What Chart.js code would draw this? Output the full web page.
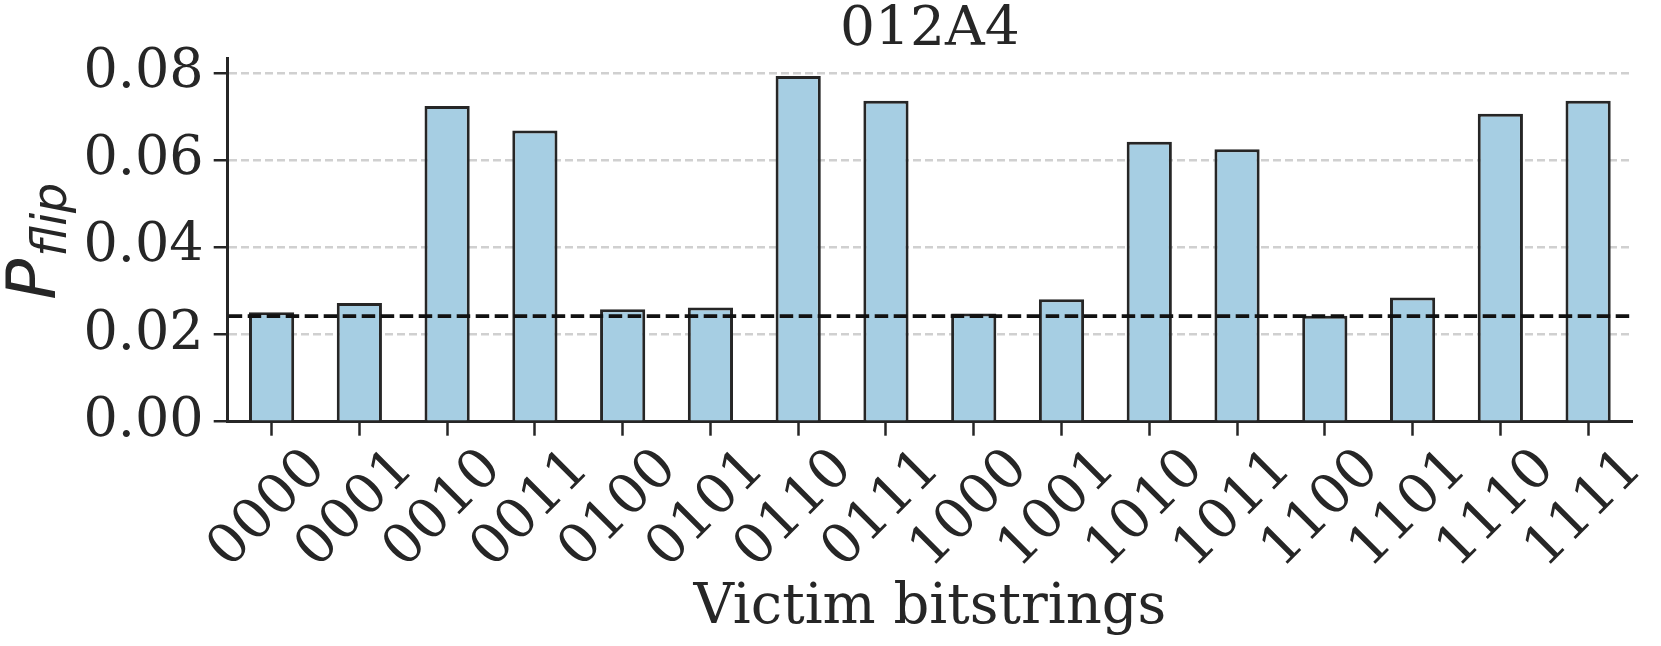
<!DOCTYPE html>
<html>
<head>
<meta charset="utf-8">
<script src="https://cdn.jsdelivr.net/npm/chart.js@4.4.1/dist/chart.umd.min.js"></script>
<style>
  html, body { margin: 0; padding: 0; background: #fff; }
  #wrap { width: 1661px; height: 646px; position: relative; }
</style>
</head>
<body>
<div id="wrap"><canvas id="flipChart"></canvas></div>
<script>
// Data
const bitstrings = ["0000", "0001", "0010", "0011", "0100", "0101", "0110", "0111",
                    "1000", "1001", "1010", "1011", "1100", "1101", "1110", "1111"];
const pFlip = [0.0251, 0.0272, 0.0724, 0.0668, 0.0258, 0.0262, 0.0793, 0.0736,
               0.0248, 0.0281, 0.0642, 0.0625, 0.0243, 0.0285, 0.0706, 0.0736];
const baselineValue = 0.0242;
const yTicks = [0, 0.02, 0.04, 0.06, 0.08];
const yMax = 0.0834;

const INK = "#262626";
const SERIF = "'DejaVu Serif', serif";
const chartCanvas = document.getElementById("flipChart");

// black dashed reference line across the whole plot
const baselinePlugin = {
  id: "baselineLine",
  afterDatasetsDraw(chart) {
    const { ctx, chartArea, scales } = chart;
    const y = scales.y.getPixelForValue(baselineValue);
    ctx.save();
    ctx.strokeStyle = "#111111";
    ctx.lineWidth = 3.8;
    ctx.setLineDash([13.5, 5.5]);
    ctx.beginPath();
    ctx.moveTo(chartArea.left + 1, y);
    ctx.lineTo(chartArea.right, y);
    ctx.stroke();
    ctx.restore();
  }
};

// y axis label: P with subscript "flip", rotated
const yLabelPlugin = {
  id: "yLabel",
  afterDraw(chart) {
    const { ctx, chartArea } = chart;
    const cy = (chartArea.top + chartArea.bottom) / 2;
    const x = chartArea.left - 172.7;
    ctx.save();
    ctx.translate(x, cy + 60);
    ctx.rotate(-Math.PI / 2);
    ctx.fillStyle = INK;
    ctx.textBaseline = "alphabetic";
    ctx.font = "italic 68px 'DejaVu Sans'";
    ctx.fillText("P", 0, 0);
    const adv = ctx.measureText("P").width;
    ctx.font = "italic 47.6px 'DejaVu Sans'";
    ctx.fillText("flip", adv + 2, 10.5);
    ctx.restore();
  }
};

new Chart(chartCanvas, {
  type: "bar",
  data: {
    labels: bitstrings,
    datasets: [
      {
        data: pFlip,
        backgroundColor: "#a6cee3",
        borderColor: INK,
        borderWidth: 3,
        barPercentage: 0.515,
        categoryPercentage: 1.0
      }
    ]
  },
  options: {
    responsive: true,
    maintainAspectRatio: false,
    animation: false,
    layout: { padding: { left: 0, right: 29, top: 0, bottom: 0 } },
    plugins: {
      legend: { display: false },
      tooltip: { enabled: false },
      title: {
        display: true,
        text: "012A4",
        color: INK,
        fullSize: false,
        font: { family: SERIF, size: 55, weight: "normal", lineHeight: 1 },
        padding: { top: 3, bottom: 0 }
      }
    },
    scales: {
      x: {
        offset: true,
        grid: {
          display: true,
          drawOnChartArea: false,
          offset: false,
          color: INK,
          tickColor: INK,
          tickWidth: 2.5,
          tickLength: 14
        },
        border: { display: true, color: INK, width: 3 },
        ticks: {
          color: INK,
          autoSkip: false,
          maxRotation: 45,
          minRotation: 45,
          padding: 5,
          labelOffset: 46,
          font: { family: SERIF, size: 55, lineHeight: 1 }
        },
        title: {
          display: true,
          text: "Victim bitstrings",
          color: INK,
          font: { family: SERIF, size: 56, lineHeight: 1 },
          padding: { top: 0, bottom: 10 }
        },
        afterFit(scale) {
          scale.height = 646 - 421.7;
        }
      },
      y: {
        min: 0,
        max: yMax,
        grid: {
          color: "#d0d0d0",
          lineWidth: 2.5,
          tickColor: INK,
          tickWidth: 2.5,
          tickLength: 14
        },
        border: { display: true, color: INK, width: 3, dash: [8, 4] },
        ticks: {
          color: INK,
          padding: 10,
          includeBounds: false,
          font: { family: SERIF, size: 54, lineHeight: 1 },
          callback: (v) => Number(v).toFixed(2)
        },
        afterBuildTicks(scale) {
          scale.ticks = yTicks.map(v => ({ value: v }));
        },
        afterFit(scale) {
          scale.width = 227.7;
        }
      }
    }
  },
  plugins: [baselinePlugin, yLabelPlugin]
});
</script>
</body>
</html>
